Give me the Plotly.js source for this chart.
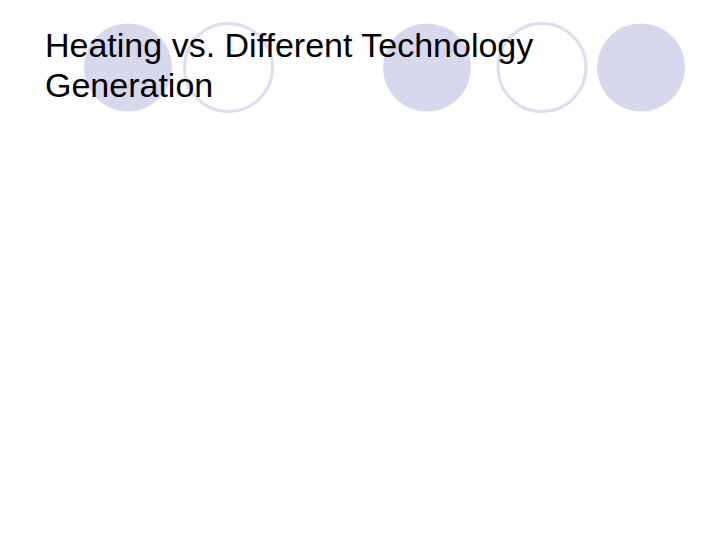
<!DOCTYPE html>
<html>
<head>
<meta charset="utf-8">
<script src="https://cdn.plot.ly/plotly-3.0.1.min.js"></script>
<style>html,body{margin:0;padding:0;background:#fff;}#chart{width:720px;height:540px;}</style>
</head>
<body>
<div id="chart"></div>
<script>
// Slide content: title only (no data series in the reference)
const titleLines = ["Heating vs. Different Technology", "Generation"];

// Decorative circle row (template ornament)
const circleCenterX = [128, 228.5, 427, 542, 641];
const circleFilled = [true, false, true, false, true];
const circleCenterY = 67.5;
const circleR = 44;

const fillColor = "#d7d7ed";
const ringColor = "#dedef0";

const shapes = circleCenterX.map((cx, i) => ({
  type: "circle", xref: "x", yref: "y", layer: "below",
  x0: cx - circleR, x1: cx + circleR,
  y0: circleCenterY - circleR, y1: circleCenterY + circleR,
  fillcolor: circleFilled[i] ? fillColor : "rgba(0,0,0,0)",
  line: circleFilled[i] ? {width: 0} : {color: ringColor, width: 3}
}));

const lineBaselines = [66, 106];
const annotations = titleLines.map((t, i) => ({
  text: t, xref: "x", yref: "y", x: 43, y: lineBaselines[i],
  xanchor: "left", yanchor: "bottom", showarrow: false, align: "left",
  font: {family: "Liberation Sans, Arial, sans-serif", size: 34, color: "#000"}
}));

Plotly.newPlot("chart", [], {
  width: 720, height: 540,
  margin: {l: 0, r: 0, t: 0, b: 0},
  paper_bgcolor: "#fff", plot_bgcolor: "#fff",
  xaxis: {range: [0, 720], visible: false, fixedrange: true},
  yaxis: {range: [540, 0], visible: false, fixedrange: true},
  shapes: shapes,
  annotations: annotations,
  showlegend: false
}, {staticPlot: true, displayModeBar: false});
</script>
</body>
</html>
